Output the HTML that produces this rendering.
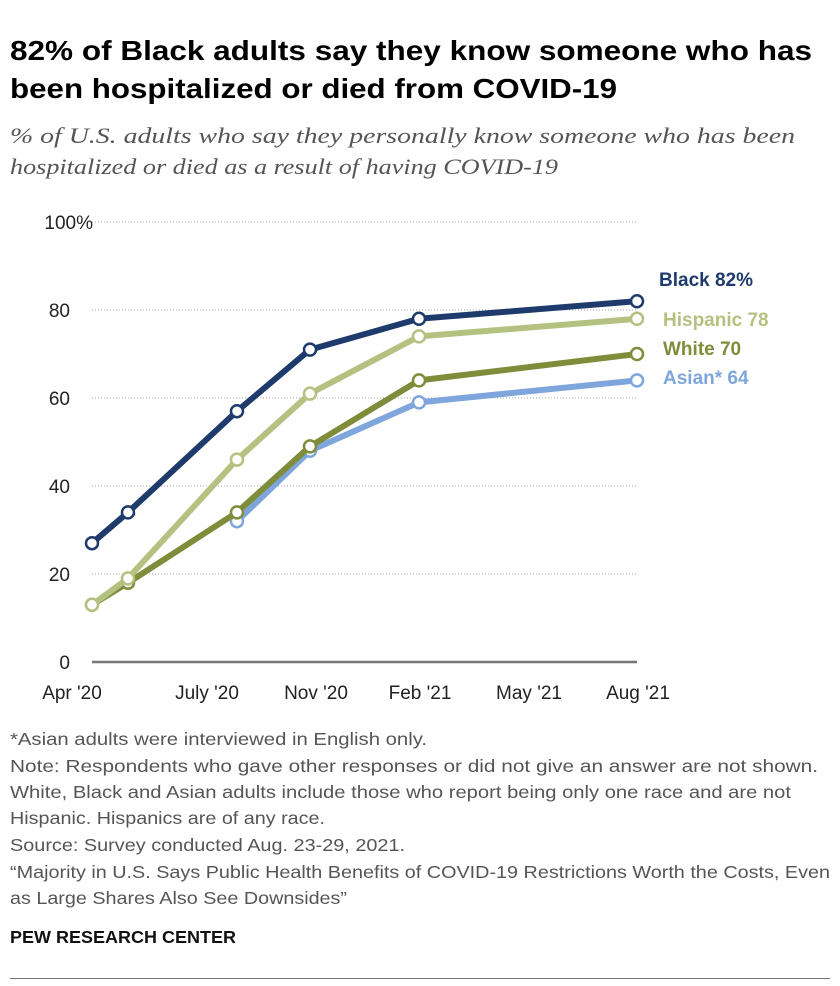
<!DOCTYPE html>
<html><head><meta charset="utf-8"><style>
body{margin:0;background:#fff;font-family:"Liberation Sans",Arial,sans-serif;}
#wrap{position:relative;width:840px;height:986px;overflow:hidden}
</style></head><body>
<div id="wrap">
<svg width="840" height="986" style="position:absolute;left:0;top:0">
<g font-size="28" font-weight="bold" fill="#000">
<text x="10" y="60" textLength="802" lengthAdjust="spacingAndGlyphs">82% of Black adults say they know someone who has</text>
<text x="10" y="98" textLength="607" lengthAdjust="spacingAndGlyphs">been hospitalized or died from COVID-19</text>
</g>
<g font-family="Liberation Serif,serif" font-style="italic" font-size="22" fill="#555">
<text x="10" y="143" textLength="785" lengthAdjust="spacingAndGlyphs">% of U.S. adults who say they personally know someone who has been</text>
<text x="10" y="174" textLength="548" lengthAdjust="spacingAndGlyphs">hospitalized or died as a result of having COVID-19</text>
</g>
<g font-size="17.5" fill="#555">
<text x="10" y="745" textLength="417" lengthAdjust="spacingAndGlyphs">*Asian adults were interviewed in English only.</text>
<text x="10" y="772" textLength="808" lengthAdjust="spacingAndGlyphs">Note: Respondents who gave other responses or did not give an answer are not shown.</text>
<text x="10" y="798" textLength="781" lengthAdjust="spacingAndGlyphs">White, Black and Asian adults include those who report being only one race and are not</text>
<text x="10" y="824" textLength="315" lengthAdjust="spacingAndGlyphs">Hispanic. Hispanics are of any race.</text>
<text x="10" y="851" textLength="395" lengthAdjust="spacingAndGlyphs">Source: Survey conducted Aug. 23-29, 2021.</text>
<text x="10" y="878" textLength="820" lengthAdjust="spacingAndGlyphs">“Majority in U.S. Says Public Health Benefits of COVID-19 Restrictions Worth the Costs, Even</text>
<text x="10" y="904" textLength="337" lengthAdjust="spacingAndGlyphs">as Large Shares Also See Downsides”</text>
</g>
<text x="10" y="943" font-size="17.5" font-weight="bold" fill="#111" textLength="226" lengthAdjust="spacingAndGlyphs">PEW RESEARCH CENTER</text>
<rect x="10" y="978" width="820" height="1" fill="#777"/>
</svg>
<svg id="chart" width="840" height="720" style="position:absolute;left:0;top:0"></svg>
</div>
<script>
const xLabels=["Apr '20","July '20","Nov '20","Feb '21","May '21","Aug '21"];
const yTicks=[0,20,40,60,80,100];
const xPos=[0,0.33,1.33,2,3,5];
const black=[27,34,57,71,78,82];
const hispanic=[13,19,46,61,74,78];
const white=[13,18,34,49,64,70];
const asianX=[1.33,2,3,5];
const asian=[32,48,59,64];
const ns="http://www.w3.org/2000/svg";
const svg=document.getElementById('chart');
const X=i=>92+i*109, Y=v=>662-v*4.4;
function mk(tag,a){const e=document.createElementNS(ns,tag);for(const k in a)e.setAttribute(k,a[k]);svg.appendChild(e);return e;}
yTicks.forEach(v=>{
 const l=mk('line',{x1:92,x2:637,y1:Y(v),y2:Y(v),stroke:v?'#aaa':'#777','stroke-width':v?1:2.5,'stroke-dasharray':v?'1,2':'none'});
 
 
 const t=mk('text',{x:v==100?93:70,y:Y(v)+7,'text-anchor':'end','font-size':19,fill:'#222'});
 t.textContent=v==100?'100%':v;
 
 
});
xLabels.forEach((s,i)=>{
 const t=mk('text',{x:i==0?72:i==1?207:X(i)+(i==2?6:1),y:699,'text-anchor':'middle','font-size':19,fill:'#222'});
 t.textContent=s;
 
 
});
function series(name,xs,vals,col,label,lx,ly){
 const p=mk('polyline',{points:vals.map((v,i)=>X(xs[i])+','+Y(v)).join(' '),fill:'none',stroke:col,'stroke-width':6,'stroke-linejoin':'round'});
 
 
 vals.forEach((v,i)=>{const c=mk('circle',{cx:X(xs[i]),cy:Y(v),r:6,fill:'#fff',stroke:col,'stroke-width':2.5});
  
  });
 const t=mk('text',{x:lx,y:ly,'font-size':19,'font-weight':'bold',fill:col});
 t.textContent=label+' '+vals[vals.length-1]+(name=='black'?'%':'');
 
 
}
series('asian',asianX,asian,'#7ea6dd','Asian*',663,384);
series('white',xPos,white,'#7f8c3a','White',663,355);
series('hispanic',xPos,hispanic,'#b5c180','Hispanic',663,326);
series('black',xPos,black,'#1f3b6c','Black',659,286);
</script>
</body></html>
